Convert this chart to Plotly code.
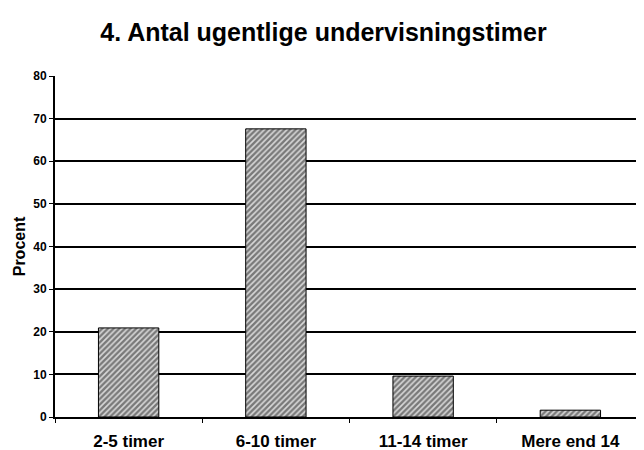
import plotly.graph_objects as go

categories = ["2-5 timer", "6-10 timer", "11-14 timer", "Mere end 14"]
procent = [20.9, 67.6, 9.6, 1.6]

FONT = "Liberation Sans, Arial"

fig = go.Figure()

fig.add_trace(go.Bar(
    x=categories,
    y=procent,
    width=0.41,
    marker=dict(
        color="white",
        line=dict(color="black", width=1),
        pattern=dict(shape="/", fgcolor="#1a1a1a", bgcolor="#d8d8d8", size=4, solidity=0.6)
    )
))

# page body has an 8px margin, so the figure is sized to fill the rest
fig.update_layout(
    width=636,
    height=442,
    paper_bgcolor="white",
    plot_bgcolor="white",
    margin=dict(l=47, r=0, t=68, b=33, autoexpand=False),
    showlegend=False,
    title=dict(
        text="<b>4. Antal ugentlige undervisningstimer</b>",
        x=0.496, xanchor="center", y=0.946, yanchor="middle",
        font=dict(family=FONT, size=25, color="black")
    ),
    font=dict(family=FONT, color="black")
)

fig.update_xaxes(
    type="category",
    automargin=False,
    tickson="boundaries",
    ticks="outside",
    ticklen=4,
    tickwidth=1,
    tickcolor="black",
    showline=True,
    linecolor="black",
    linewidth=2,
    tickfont=dict(size=17, family=FONT),
    tickprefix="<b>", ticksuffix="</b>",
    ticklabelstandoff=8,
    showgrid=False
)

fig.update_yaxes(
    range=[0, 80],
    dtick=10,
    automargin=False,
    ticks="outside",
    ticklen=4,
    tickcolor="black",
    showline=True,
    linecolor="black",
    linewidth=2,
    showgrid=True,
    gridcolor="black",
    gridwidth=2,
    zeroline=False,
    tickprefix="<b>", ticksuffix="</b>",
    tickfont=dict(size=12, family=FONT),
    title=dict(text="<b>Procent</b>", font=dict(size=16, family=FONT), standoff=4)
)

fig.write_html("out.html")
